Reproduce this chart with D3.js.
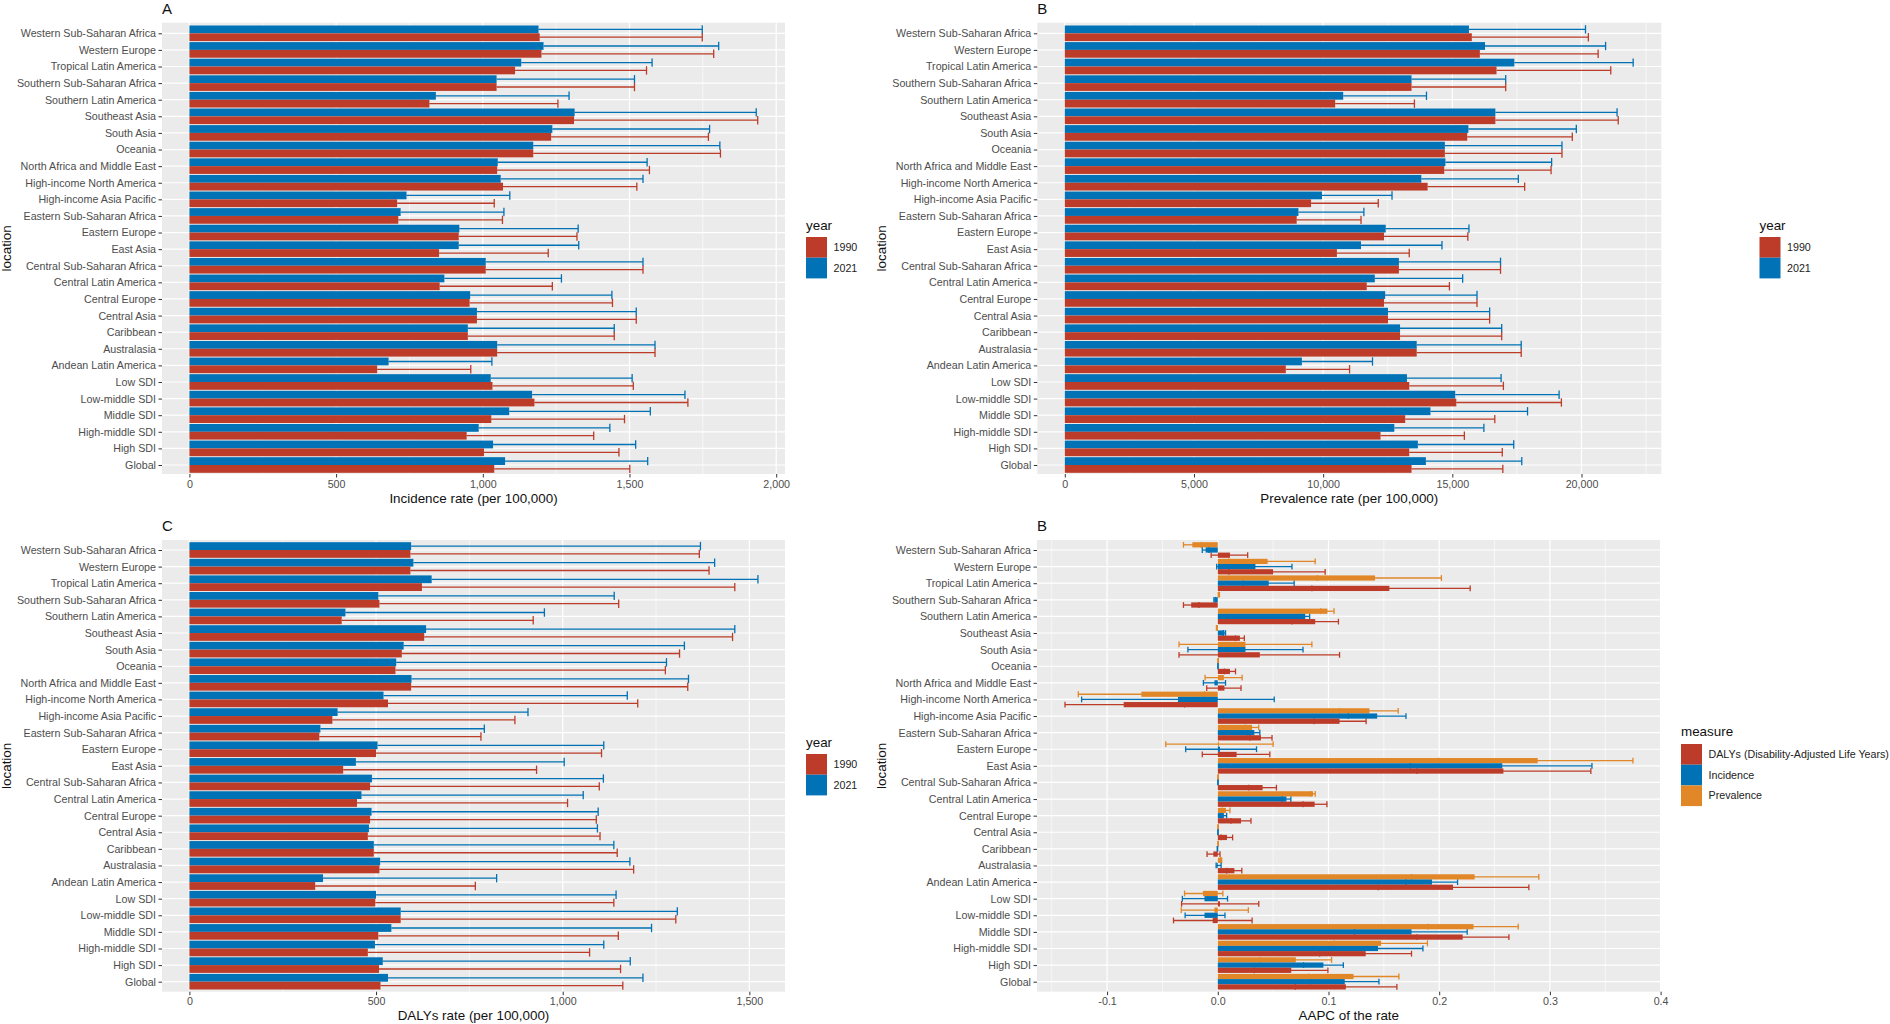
<!DOCTYPE html>
<html>
<head>
<meta charset="utf-8">
<title>Incidence, prevalence, DALYs and AAPC by location</title>
<script src="https://cdn.jsdelivr.net/npm/d3@7"></script>
<style>
  html, body { margin: 0; padding: 0; background: #fff; }
  svg { display: block; }
  text { font-family: "Liberation Sans", Arial, sans-serif; }
</style>
</head>
<body>
<svg id="chart" width="1890" height="1024"></svg>
<script>
// top to bottom, same order in all four panels
const locations = ["Western Sub-Saharan Africa", "Western Europe", "Tropical Latin America", "Southern Sub-Saharan Africa",
  "Southern Latin America", "Southeast Asia", "South Asia", "Oceania", "North Africa and Middle East",
  "High-income North America", "High-income Asia Pacific", "Eastern Sub-Saharan Africa", "Eastern Europe", "East Asia",
  "Central Sub-Saharan Africa", "Central Latin America", "Central Europe", "Central Asia", "Caribbean", "Australasia",
  "Andean Latin America", "Low SDI", "Low-middle SDI", "Middle SDI", "High-middle SDI", "High SDI", "Global"];

const measures = ["Prevalence", "Incidence", "DALYs (Disability-Adjusted Life Years)"];

// A
const incidence2021 = [1190, 1207, 1131, 1047, 840, 1313, 1237, 1172, 1051, 1061, 740, 720, 920, 918, 1010, 869, 957, 980, 949, 1049, 679, 1027, 1168, 1090, 986, 1035, 1076];
const incidence2021Upper = [1748, 1804, 1577, 1517, 1294, 1932, 1773, 1808, 1560, 1546, 1092, 1072, 1325, 1327, 1546, 1268, 1440, 1523, 1448, 1587, 1031, 1509, 1689, 1571, 1433, 1521, 1562];
const incidence1990 = [1194, 1200, 1110, 1047, 818, 1311, 1233, 1172, 1049, 1069, 708, 712, 918, 851, 1010, 853, 955, 980, 949, 1049, 640, 1033, 1176, 1029, 945, 1004, 1039];
const incidence1990Upper = [1748, 1787, 1558, 1517, 1256, 1937, 1769, 1810, 1568, 1525, 1039, 1067, 1321, 1223, 1546, 1237, 1442, 1523, 1448, 1587, 959, 1513, 1699, 1483, 1378, 1464, 1501];

// B (top right)
const prevalence2021 = [15644, 16266, 17400, 13422, 10777, 16666, 15622, 14711, 14733, 13800, 9955, 9044, 12422, 11466, 12933, 12000, 12400, 12510, 12977, 13622, 9177, 13244, 15111, 14155, 12755, 13666, 13977];
const prevalence2021Upper = [20155, 20933, 22000, 17066, 14000, 21377, 19800, 19244, 18844, 17555, 12666, 11577, 15644, 14600, 16866, 15400, 15955, 16444, 16911, 17666, 11911, 16888, 19133, 17911, 16222, 17377, 17688];
const prevalence1990 = [15755, 16066, 16711, 13422, 10466, 16666, 15577, 14711, 14688, 14044, 9533, 8977, 12355, 10533, 12933, 11688, 12355, 12510, 12977, 13622, 8555, 13333, 15155, 13177, 12222, 13333, 13422];
const prevalence1990Upper = [20266, 20644, 21133, 17066, 13533, 21422, 19644, 19244, 18822, 17800, 12133, 11466, 15600, 13333, 16866, 14888, 15955, 16444, 16911, 17666, 11022, 16977, 19222, 16644, 15466, 16933, 16955];

// C
const dalys2021 = [594, 600, 649, 506, 418, 634, 574, 554, 595, 520, 397, 351, 504, 446, 489, 461, 488, 481, 494, 511, 358, 500, 566, 541, 497, 518, 532];
const dalys2021Upper = [1369, 1407, 1523, 1138, 951, 1461, 1326, 1278, 1337, 1173, 907, 790, 1110, 1004, 1109, 1055, 1095, 1093, 1137, 1180, 823, 1143, 1307, 1238, 1110, 1181, 1215];
const dalys1990 = [592, 592, 623, 509, 408, 629, 569, 552, 594, 532, 383, 348, 500, 412, 484, 449, 484, 478, 494, 509, 337, 498, 566, 506, 478, 508, 512];
const dalys1990Upper = [1366, 1392, 1461, 1150, 921, 1455, 1313, 1275, 1335, 1201, 872, 781, 1104, 930, 1098, 1013, 1090, 1100, 1146, 1190, 766, 1137, 1303, 1149, 1072, 1155, 1161];

// D, AAPC
const aapcPrevalence = [-0.023, 0.045, 0.142, 0.001, 0.099, -0.001, 0.025, 0.0003, 0.0055, -0.069, 0.137, 0.031, 0.001, 0.289, 0.0003, 0.086, 0.0074, 0.0003, 0.0003, 0.003, 0.232, -0.0134, -0.003, 0.231, 0.1475, 0.0705, 0.1226];
const aapcPrevalenceLow = [-0.031, 0.01, 0.09, 0.0005, 0.093, -0.0012, -0.035, 0.0001, -0.0115, -0.126, 0.11, 0.025, -0.047, 0.2, 0.0001, 0.084, 0.004, 0.0001, 0.0001, 0.0025, 0.175, -0.03, -0.033, 0.19, 0.105, 0.038, 0.082];
const aapcPrevalenceHigh = [-0.015, 0.088, 0.202, 0.0015, 0.105, -0.0005, 0.085, 0.0005, 0.022, -0.012, 0.163, 0.037, 0.05, 0.375, 0.0005, 0.088, 0.011, 0.0005, 0.0005, 0.0035, 0.29, 0.0046, 0.0276, 0.2714, 0.1894, 0.1028, 0.1636];
const aapcIncidence = [-0.011, 0.034, 0.046, -0.003, 0.079, 0.006, 0.025, 0.0002, -0.003, -0.036, 0.144, 0.033, 0.002, 0.257, 0.0002, 0.062, 0.0055, 0.0002, -0.0003, -0.001, 0.1935, -0.012, -0.012, 0.175, 0.1447, 0.0954, 0.1147];
const aapcIncidenceLow = [-0.014, -0.001, 0.023, -0.0035, 0.074, 0.005, -0.027, 0.0001, -0.013, -0.123, 0.118, 0.027, -0.029, 0.174, 0.0001, 0.058, 0.003, 0.0001, -0.0005, -0.0015, 0.17, -0.032, -0.0295, 0.1235, 0.103, 0.0774, 0.0834];
const aapcIncidenceHigh = [-0.008, 0.067, 0.069, -0.002, 0.083, 0.007, 0.077, 0.0003, 0.007, 0.051, 0.17, 0.038, 0.035, 0.338, 0.0003, 0.066, 0.008, 0.0003, -0.0001, 0.003, 0.2166, 0.0088, 0.0065, 0.2253, 0.1853, 0.1134, 0.1456];
const aapcDalys = [0.011, 0.05, 0.155, -0.024, 0.088, 0.02, 0.038, 0.011, 0.006, -0.085, 0.11, 0.039, 0.017, 0.258, 0.0405, 0.0875, 0.021, 0.0083, -0.004, 0.015, 0.2125, 0.002, -0.0046, 0.2212, 0.1336, 0.0664, 0.1157];
const aapcDalysLow = [-0.006, 0.01, 0.085, -0.031, 0.067, 0.016, -0.035, 0.006, -0.01, -0.138, 0.087, 0.029, -0.014, 0.18, 0.028, 0.077, 0.012, 0.003, -0.0097, 0.008, 0.145, -0.0327, -0.04, 0.18, 0.092, 0.033, 0.07];
const aapcDalysHigh = [0.027, 0.097, 0.228, -0.017, 0.109, 0.024, 0.11, 0.016, 0.021, -0.03, 0.134, 0.049, 0.047, 0.337, 0.053, 0.0986, 0.03, 0.0134, 0.002, 0.0217, 0.281, 0.037, 0.031, 0.263, 0.175, 0.0995, 0.1618];

const colors = {
  "1990": "#BC3C29",
  "2021": "#0072B5",
  "DALYs (Disability-Adjusted Life Years)": "#BC3C29",
  "Incidence": "#0072B5",
  "Prevalence": "#E18727"
};

const svg = d3.select("#chart");
const topRow = { top: 22.7, bottom: 474, first: 33.3, last: 465, label: 8, tickY: 484, titleY: 498, legendY: 225.7, keyY: 237 };
const botRow = { top: 540, bottom: 991.7, first: 550, last: 981.7, label: 525, tickY: 1001, titleY: 1015.7, legendY: 742, keyY: 754 };

function drawPanel(opts) {
  const g = svg.append("g");
  const row = opts.row;
  const legendY = opts.legendY || row.legendY;
  const keyY = opts.keyY || row.keyY;

  const x = d3.scaleLinear().domain(opts.domain).range([opts.left, opts.right]);
  const y = d3.scalePoint().domain(locations).range([row.first, row.last]);
  const barH = y.step() * 0.94;
  const dodge = d3.scaleBand().domain(opts.series.map(s => s.name)).range([-barH / 2, barH / 2]);

  g.append("rect")
    .attr("x", opts.left).attr("y", row.top)
    .attr("width", opts.right - opts.left).attr("height", row.bottom - row.top)
    .attr("fill", "#EBEBEB");

  // grid
  g.selectAll(".minor").data(opts.minor).enter().append("line")
    .attr("x1", d => x(d)).attr("x2", d => x(d))
    .attr("y1", row.top).attr("y2", row.bottom)
    .attr("stroke", "#fff").attr("stroke-width", 0.6);
  g.selectAll(".major").data(opts.ticks).enter().append("line")
    .attr("x1", d => x(d)).attr("x2", d => x(d))
    .attr("y1", row.top).attr("y2", row.bottom)
    .attr("stroke", "#fff").attr("stroke-width", 1.2);
  g.selectAll(".hgrid").data(locations).enter().append("line")
    .attr("x1", opts.left).attr("x2", opts.right)
    .attr("y1", d => y(d)).attr("y2", d => y(d))
    .attr("stroke", "#fff").attr("stroke-width", 1.2);

  // error bars go under the bars
  opts.series.forEach(s => {
    const cy = (d, i) => y(locations[i]) + dodge(s.name) + dodge.bandwidth() / 2;
    const lo = s.low || s.values;
    const eb = g.append("g").attr("stroke", colors[s.name]).attr("stroke-width", 1.3).attr("fill", "none");
    eb.selectAll(".stem").data(s.high).enter().append("line")
      .attr("x1", (d, i) => x(lo[i])).attr("x2", d => x(d))
      .attr("y1", cy).attr("y2", cy);
    eb.selectAll(".capHigh").data(s.high).enter().append("line")
      .attr("x1", d => x(d)).attr("x2", d => x(d))
      .attr("y1", (d, i) => cy(d, i) - dodge.bandwidth() / 2 - 0.3)
      .attr("y2", (d, i) => cy(d, i) + dodge.bandwidth() / 2 + 0.3);
    if (s.low) {
      eb.selectAll(".capLow").data(s.low).enter().append("line")
        .attr("x1", d => x(d)).attr("x2", d => x(d))
        .attr("y1", (d, i) => cy(d, i) - dodge.bandwidth() / 2 - 0.3)
        .attr("y2", (d, i) => cy(d, i) + dodge.bandwidth() / 2 + 0.3);
    }
  });

  opts.series.forEach(s => {
    g.append("g").selectAll("rect").data(s.values).enter().append("rect")
      .attr("x", d => Math.min(x(0), x(d)))
      .attr("width", d => Math.abs(x(d) - x(0)))
      .attr("y", (d, i) => y(locations[i]) + dodge(s.name))
      .attr("height", dodge.bandwidth())
      .attr("fill", colors[s.name]);
  });

  // axes
  const xAxis = g.append("g")
    .attr("transform", `translate(0,${row.bottom})`)
    .call(d3.axisBottom(x).tickValues(opts.ticks).tickFormat(opts.format).tickSize(3.5).tickSizeOuter(0));
  const yAxis = g.append("g")
    .attr("transform", `translate(${opts.left},0)`)
    .call(d3.axisLeft(y).tickSize(3.5).tickPadding(2.5));
  [xAxis, yAxis].forEach(a => {
    a.select(".domain").remove();
    a.selectAll(".tick line").attr("stroke", "#333").attr("stroke-width", 1);
    a.selectAll(".tick text").attr("fill", "#4D4D4D").attr("font-size", 10.7)
      .style("font-family", '"Liberation Sans", Arial, sans-serif');
  });
  xAxis.selectAll(".tick text").attr("y", null).attr("dy", null)
    .attr("y", row.tickY - row.bottom + 3.7);

  // titles
  g.append("text").attr("x", (opts.left + opts.right) / 2).attr("y", row.titleY + 4.5)
    .attr("text-anchor", "middle").attr("font-size", 13.4).attr("fill", "#111").text(opts.xTitle);
  g.append("text")
    .attr("transform", `translate(${opts.left - 156},${(row.top + row.bottom) / 2}) rotate(-90)`)
    .attr("dy", "0.35em").attr("text-anchor", "middle").attr("font-size", 13.4).attr("fill", "#111").text("location");
  g.append("text").attr("x", opts.left).attr("y", row.label + 5.5)
    .attr("font-size", 15).attr("fill", "#111").text(opts.tag);

  // legend
  const keys = opts.legendKeys;
  const lg = g.append("g");
  lg.append("text").attr("x", opts.legendX).attr("y", legendY + 4.5)
    .attr("font-size", 13.4).attr("fill", "#111").text(opts.legendTitle);
  lg.selectAll("rect").data(keys).enter().append("rect")
    .attr("x", opts.legendX).attr("y", (d, i) => keyY + i * 20.7)
    .attr("width", 21).attr("height", 20.7)
    .attr("fill", d => colors[d]);
  lg.selectAll(".key").data(keys).enter().append("text")
    .attr("x", opts.legendX + 27.5).attr("y", (d, i) => keyY + i * 20.7 + 10.3)
    .attr("dy", "0.35em").attr("font-size", 10.7).attr("fill", "#222").text(d => d);
}

const commaFmt = d3.format(",");
// plain hyphen on the negative tick, d3.format gives a long minus
const aapcFmt = d => d3.format(".1f")(d).replace("\u2212", "-");

drawPanel({
  tag: "A", row: topRow, left: 162, right: 785, domain: [-93.4, 2030],
  ticks: [0, 500, 1000, 1500, 2000], minor: [250, 750, 1250, 1750], format: commaFmt,
  xTitle: "Incidence rate (per 100,000)", legendTitle: "year", legendX: 806, legendKeys: ["1990", "2021"],
  series: [
    { name: "2021", values: incidence2021, high: incidence2021Upper },
    { name: "1990", values: incidence1990, high: incidence1990Upper }
  ]
});

drawPanel({
  tag: "B", row: topRow, left: 1037.3, right: 1661.3, domain: [-1064, 23089],
  ticks: [0, 5000, 10000, 15000, 20000], minor: [2500, 7500, 12500, 17500, 22500], format: commaFmt,
  xTitle: "Prevalence rate (per 100,000)", legendTitle: "year", legendX: 1759.5, legendKeys: ["1990", "2021"],
  series: [
    { name: "2021", values: prevalence2021, high: prevalence2021Upper },
    { name: "1990", values: prevalence1990, high: prevalence1990Upper }
  ]
});

drawPanel({
  tag: "C", row: botRow, left: 162, right: 785, domain: [-73.4, 1595.5],
  ticks: [0, 500, 1000, 1500], minor: [250, 750, 1250], format: commaFmt,
  xTitle: "DALYs rate (per 100,000)", legendTitle: "year", legendX: 806, legendKeys: ["1990", "2021"],
  series: [
    { name: "2021", values: dalys2021, high: dalys2021Upper },
    { name: "1990", values: dalys1990, high: dalys1990Upper }
  ]
});

drawPanel({
  tag: "B", row: botRow, left: 1037, right: 1660.6, domain: [-0.1633, 0.4],
  ticks: [-0.1, 0, 0.1, 0.2, 0.3, 0.4], minor: [-0.15, -0.05, 0.05, 0.15, 0.25, 0.35], format: aapcFmt,
  xTitle: "AAPC of the rate", legendTitle: "measure", legendX: 1681, legendY: 731.7, keyY: 744,
  legendKeys: ["DALYs (Disability-Adjusted Life Years)", "Incidence", "Prevalence"],
  series: [
    { name: measures[0], values: aapcPrevalence, low: aapcPrevalenceLow, high: aapcPrevalenceHigh },
    { name: measures[1], values: aapcIncidence, low: aapcIncidenceLow, high: aapcIncidenceHigh },
    { name: measures[2], values: aapcDalys, low: aapcDalysLow, high: aapcDalysHigh }
  ]
});
</script>
</body>
</html>
